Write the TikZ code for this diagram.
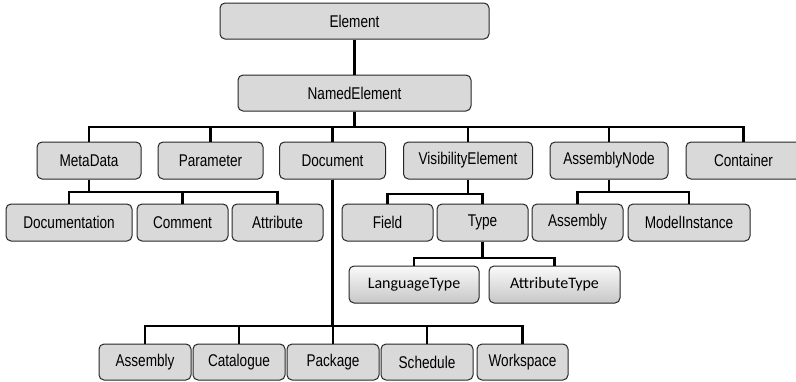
\documentclass[tikz,border=0pt]{standalone}
\usepackage{fontspec}
\setmainfont{Liberation Sans}
\newfontfamily\narrowfont[FakeStretch=0.8]{Liberation Sans}
\newfontfamily\cbfont{Carlito}
\begin{document}
\begin{tikzpicture}[x=1pt,y=-1pt,
  cls/.style={draw=black!85, line width=1pt, fill=black!15, rounded corners=5pt,
    inner sep=0pt, minimum height=37pt, text=black,
    font=\narrowfont\fontsize{17}{17}\selectfont},
  gcls/.style={cls, top color=black!2, bottom color=black!22,
    font=\cbfont\fontsize{16}{16}\selectfont},
  link/.style={line width=2.3pt, black},
]
\useasboundingbox (0,0) rectangle (796,381);
\clip (0,0) rectangle (796,381);

% hierarchy root
\node[cls, minimum width=269pt, minimum height=36pt] (el) at (354.5,21) {Element};
\node[cls, minimum width=233pt, minimum height=36pt] (ne) at (354.5,93) {NamedElement};

% second level
\node[cls, minimum width=104pt] (md)  at (89,160.5)    {MetaData};
\node[cls, minimum width=105pt] (par) at (210.5,160.5) {Parameter};
\node[cls, minimum width=106pt] (doc) at (332.5,160.5) {Document};
\node[cls, minimum width=129pt] (vis) at (468,160.5)   {VisibilityElement};
\node[cls, minimum width=118pt] (an)  at (609,160.5)   {AssemblyNode};
\node[cls, minimum width=115pt] (con) at (743.5,160.5) {Container};

% third level
\node[cls, minimum width=126pt] (dcm) at (69,222.5)    {Documentation};
\node[cls, minimum width=91pt]  (cmt) at (182.5,222.5) {Comment};
\node[cls, minimum width=91pt]  (att) at (277.5,222.5) {Attribute};
\node[cls, minimum width=91pt]  (fld) at (387.5,222.5) {Field};
\node[cls, minimum width=91pt]  (typ) at (482.5,222.5) {Type};
\node[cls, minimum width=91pt]  (asm) at (577.5,222.5) {Assembly};
\node[cls, minimum width=122pt] (mi)  at (689,222.5)   {ModelInstance};

% type kinds
\node[gcls, minimum width=130pt] (lt) at (414,284.5)   {LanguageType};
\node[gcls, minimum width=131pt] (at) at (554.5,284.5) {AttributeType};

% document kinds
\node[cls, minimum width=92pt, minimum height=36pt] (dasm) at (145,362)   {Assembly};
\node[cls, minimum width=92pt, minimum height=36pt] (cat)  at (239,362)   {Catalogue};
\node[cls, minimum width=92pt, minimum height=36pt] (pkg)  at (333,362)   {Package};
\node[cls, minimum width=92pt, minimum height=36pt] (sch)  at (427,362)   {Schedule};
\node[cls, minimum width=91pt, minimum height=36pt] (ws)   at (522.5,362) {Workspace};

% bus levels
\coordinate (b1) at (0,127);
\coordinate (b2) at (0,192);
\coordinate (b3) at (0,194);
\coordinate (b4) at (0,258);
\coordinate (b5) at (0,326);

\draw[link] (el.south) -- (ne.north);
\foreach \c in {md,par,doc,vis,an,con}
  \draw[link] (ne.south) -- (ne.south |- b1) -| (\c.north);
\foreach \c in {dcm,cmt,att}
  \draw[link] (md.south) -- (md.south |- b2) -| (\c.north);
\foreach \c in {fld,typ}
  \draw[link] (vis.south) -- (vis.south |- b3) -| (\c.north);
\foreach \c in {asm,mi}
  \draw[link] (an.south) -- (an.south |- b2) -| (\c.north);
\foreach \c in {lt,at}
  \draw[link] (typ.south) -- (typ.south |- b4) -| (\c.north);
\foreach \c in {dasm,cat,pkg,sch,ws}
  \draw[link] (doc.south) -- (doc.south |- b5) -| (\c.north);
\end{tikzpicture}
\end{document}
